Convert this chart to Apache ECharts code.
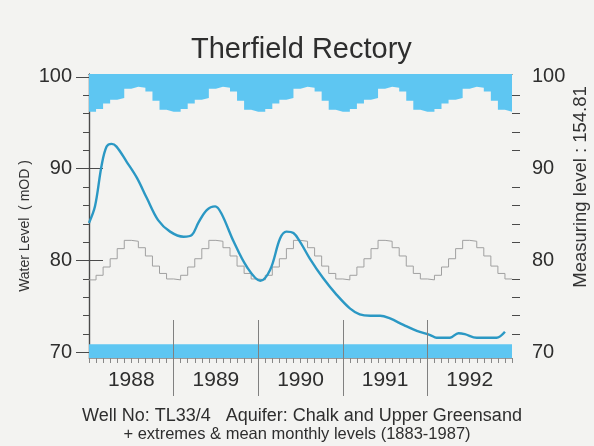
<!DOCTYPE html>
<html>
<head>
<meta charset="utf-8">
<script src="https://cdn.jsdelivr.net/npm/echarts@6/dist/echarts.min.js"></script>
<style>
  html, body { margin: 0; padding: 0; background: #f3f3f1; }
  #chart { width: 594px; height: 446px; }
</style>
</head>
<body>
<div id="chart"></div>
<script>
// Hydrograph, Therfield Rectory well (TL33/4), 1988-1992

// Year labels, one per 12-month block of the time axis (months from Jan 1988)
const years = ['1988', '1989', '1990', '1991', '1992'];

// Long-term monthly statistics (1883-1987), Jan..Dec, in mOD
const monthlyMax  = [96.2, 96.5, 97.1, 97.5, 97.7, 98.7, 98.9, 98.8, 98.4, 97.4, 96.4, 96.2];
const monthlyMean = [77.9, 78.4, 79.3, 80.2, 81.3, 82.2, 82.1, 81.4, 80.5, 79.4, 78.6, 78.0];
const monthlyMin  = [70.9, 70.9, 70.9, 70.9, 70.9, 70.9, 70.9, 70.9, 70.9, 70.9, 70.9, 70.9];

// Observed water level: time in months from Jan 1988, level in mOD
const levelMonth = [0, 0.85, 1.8, 2.5, 3.2, 3.9, 5.3, 6.8, 8.2, 9.8, 11.5, 13.4, 14.6,
  15.5, 16.7, 17.9, 18.8, 20.5, 22.4, 24.3, 25.7, 27.1, 28.0, 29.0, 29.9, 31.3,
  33.2, 35.1, 37.0, 38.4, 39.9, 41.3, 42.7, 44.6, 46.5, 48.4, 49.3, 51.2, 52.4,
  53.3, 55.0, 57.8, 59.0];
const levelValue = [84.1, 85.9, 90.4, 92.4, 92.7, 92.4, 90.8, 89.0, 86.8, 84.4, 83.15, 82.6, 82.8,
  84.1, 85.5, 85.9, 85.1, 82.1, 79.3, 77.8, 79.0, 82.4, 83.15, 83.0, 82.1, 80.25,
  78.1, 76.3, 74.8, 74.15, 74.0, 74.0, 73.7, 73.0, 72.35, 71.9, 71.6, 71.6, 72.1,
  72.0, 71.6, 71.6, 72.25];

// Axis ticks
const majorTicks = [70, 80, 90, 100];
const minorTicks = [72, 74, 76, 78, 82, 84, 86, 88, 92, 94, 96, 98];

const Y_MIN = 69.4, Y_MAX = 100.3;
const N_MONTHS = years.length * 12;

// Monthly climatology repeated over every year as a step series
function monthlySeries(values) {
  const pts = [];
  for (let k = 0; k < N_MONTHS; k++) pts.push([k, values[k % 12]]);
  pts.push([N_MONTHS, values[(N_MONTHS - 1) % 12]]);
  return pts;
}

const monthTicks = [];
for (let k = 0; k <= N_MONTHS; k++) monthTicks.push(k);
const yearCentres = years.map((_, i) => i * 12 + 6);
const yearBounds = years.slice(1).map((_, i) => (i + 1) * 12);

const levelData = levelMonth.map((m, i) => [m, levelValue[i]]);

const AXIS = '#4a4a4a';
const BAND = '#5ec6f2';
const TEXT = '#2e2e2e';

const yBase = { type: 'value', min: Y_MIN, max: Y_MAX, splitLine: { show: false } };

const chart = echarts.init(document.getElementById('chart'), null, { renderer: 'canvas' });
chart.setOption({
  backgroundColor: '#f3f3f1',
  animation: false,
  textStyle: { fontFamily: 'Liberation Sans, Arial, sans-serif' },
  title: [
    { text: 'Therfield Rectory', left: 186, top: 30,
      textStyle: { fontSize: 29, fontWeight: 'normal', color: TEXT } },
    { text: 'Well No: TL33/4   Aquifer: Chalk and Upper Greensand', left: 77, top: 402,
      textStyle: { fontSize: 18, fontWeight: 'normal', color: TEXT } },
    { text: '+ extremes & mean monthly levels (1883-1987)', left: 'center', top: 421,
      textStyle: { fontSize: 16.5, fontWeight: 'normal', color: TEXT } }
  ],
  grid: { left: 89, right: 82, top: 74, bottom: 88, containLabel: false, outerBoundsMode: 'none' },
  xAxis: [
    { type: 'value', min: 0, max: N_MONTHS, position: 'bottom',
      axisLine: { show: true, lineStyle: { color: '#9a9a9a', width: 1 } },
      axisTick: { show: true, customValues: monthTicks, length: 5, lineStyle: { color: '#888' } },
      axisLabel: { show: true, customValues: yearCentres, margin: 12, fontSize: 21, color: TEXT,
        formatter: v => years[Math.round((v - 6) / 12)] },
      splitLine: { show: false } },
    { type: 'value', min: 0, max: N_MONTHS, position: 'bottom', offset: 38, z: 5,
      axisLine: { show: false },
      axisTick: { show: true, inside: true, customValues: yearBounds, length: 76,
        lineStyle: { color: '#808080', width: 1 } },
      axisLabel: { show: false }, splitLine: { show: false } },
    { type: 'value', min: 0, max: N_MONTHS, position: 'top',
      axisLine: { show: true, lineStyle: { color: AXIS, width: 1.2 } },
      axisTick: { show: false }, axisLabel: { show: false }, splitLine: { show: false } }
  ],
  yAxis: [
    { ...yBase, position: 'left',
      name: 'Water Level  ( mOD )', nameLocation: 'middle', nameRotate: 90, nameGap: 57,
      nameMoveOverlap: false,
      nameTextStyle: { fontSize: 14, color: '#333', padding: [0, 20, 0, 0] },
      axisLine: { show: true, lineStyle: { color: AXIS, width: 1.2 } },
      axisTick: { show: true, customValues: majorTicks, length: 13, lineStyle: { color: AXIS } },
      axisLabel: { show: true, customValues: majorTicks, margin: 17, fontSize: 20, color: TEXT } },
    { ...yBase, position: 'left',
      axisLine: { show: false },
      axisTick: { show: true, customValues: minorTicks, length: 6, lineStyle: { color: AXIS } },
      axisLabel: { show: false } },
    { ...yBase, position: 'right',
      name: 'Measuring level : 154.81', nameLocation: 'middle', nameRotate: 90, nameGap: 59,
      nameMoveOverlap: false,
      nameTextStyle: { fontSize: 18.5, color: '#333', padding: [0, 0, 0, 58] },
      axisLine: { show: true, lineStyle: { color: AXIS, width: 1.2 } },
      axisTick: { show: true, customValues: majorTicks, length: 14, lineStyle: { color: AXIS } },
      axisLabel: { show: true, customValues: majorTicks, margin: 20, fontSize: 20, color: TEXT } },
    { ...yBase, position: 'right',
      axisLine: { show: false },
      axisTick: { show: true, customValues: minorTicks, length: 8, lineStyle: { color: AXIS } },
      axisLabel: { show: false } }
  ],
  series: [
    { name: 'Maximum', type: 'line', step: 'end', symbol: 'none', z: 2,
      data: monthlySeries(monthlyMax),
      lineStyle: { width: 0, color: BAND },
      areaStyle: { origin: 'end', color: BAND, opacity: 1 } },
    { name: 'Minimum', type: 'line', step: 'end', symbol: 'none', z: 2,
      data: monthlySeries(monthlyMin),
      lineStyle: { width: 0, color: BAND },
      areaStyle: { origin: 'start', color: BAND, opacity: 1 } },
    { name: 'Mean', type: 'line', step: 'end', symbol: 'none', z: 3,
      data: monthlySeries(monthlyMean),
      lineStyle: { width: 1, color: '#a0a0a0' } },
    { name: 'Level', type: 'line', smooth: 0.35, symbol: 'none', z: 4,
      data: levelData,
      lineStyle: { width: 2.4, color: '#2b98c4' } }
  ]
});
</script>
</body>
</html>
